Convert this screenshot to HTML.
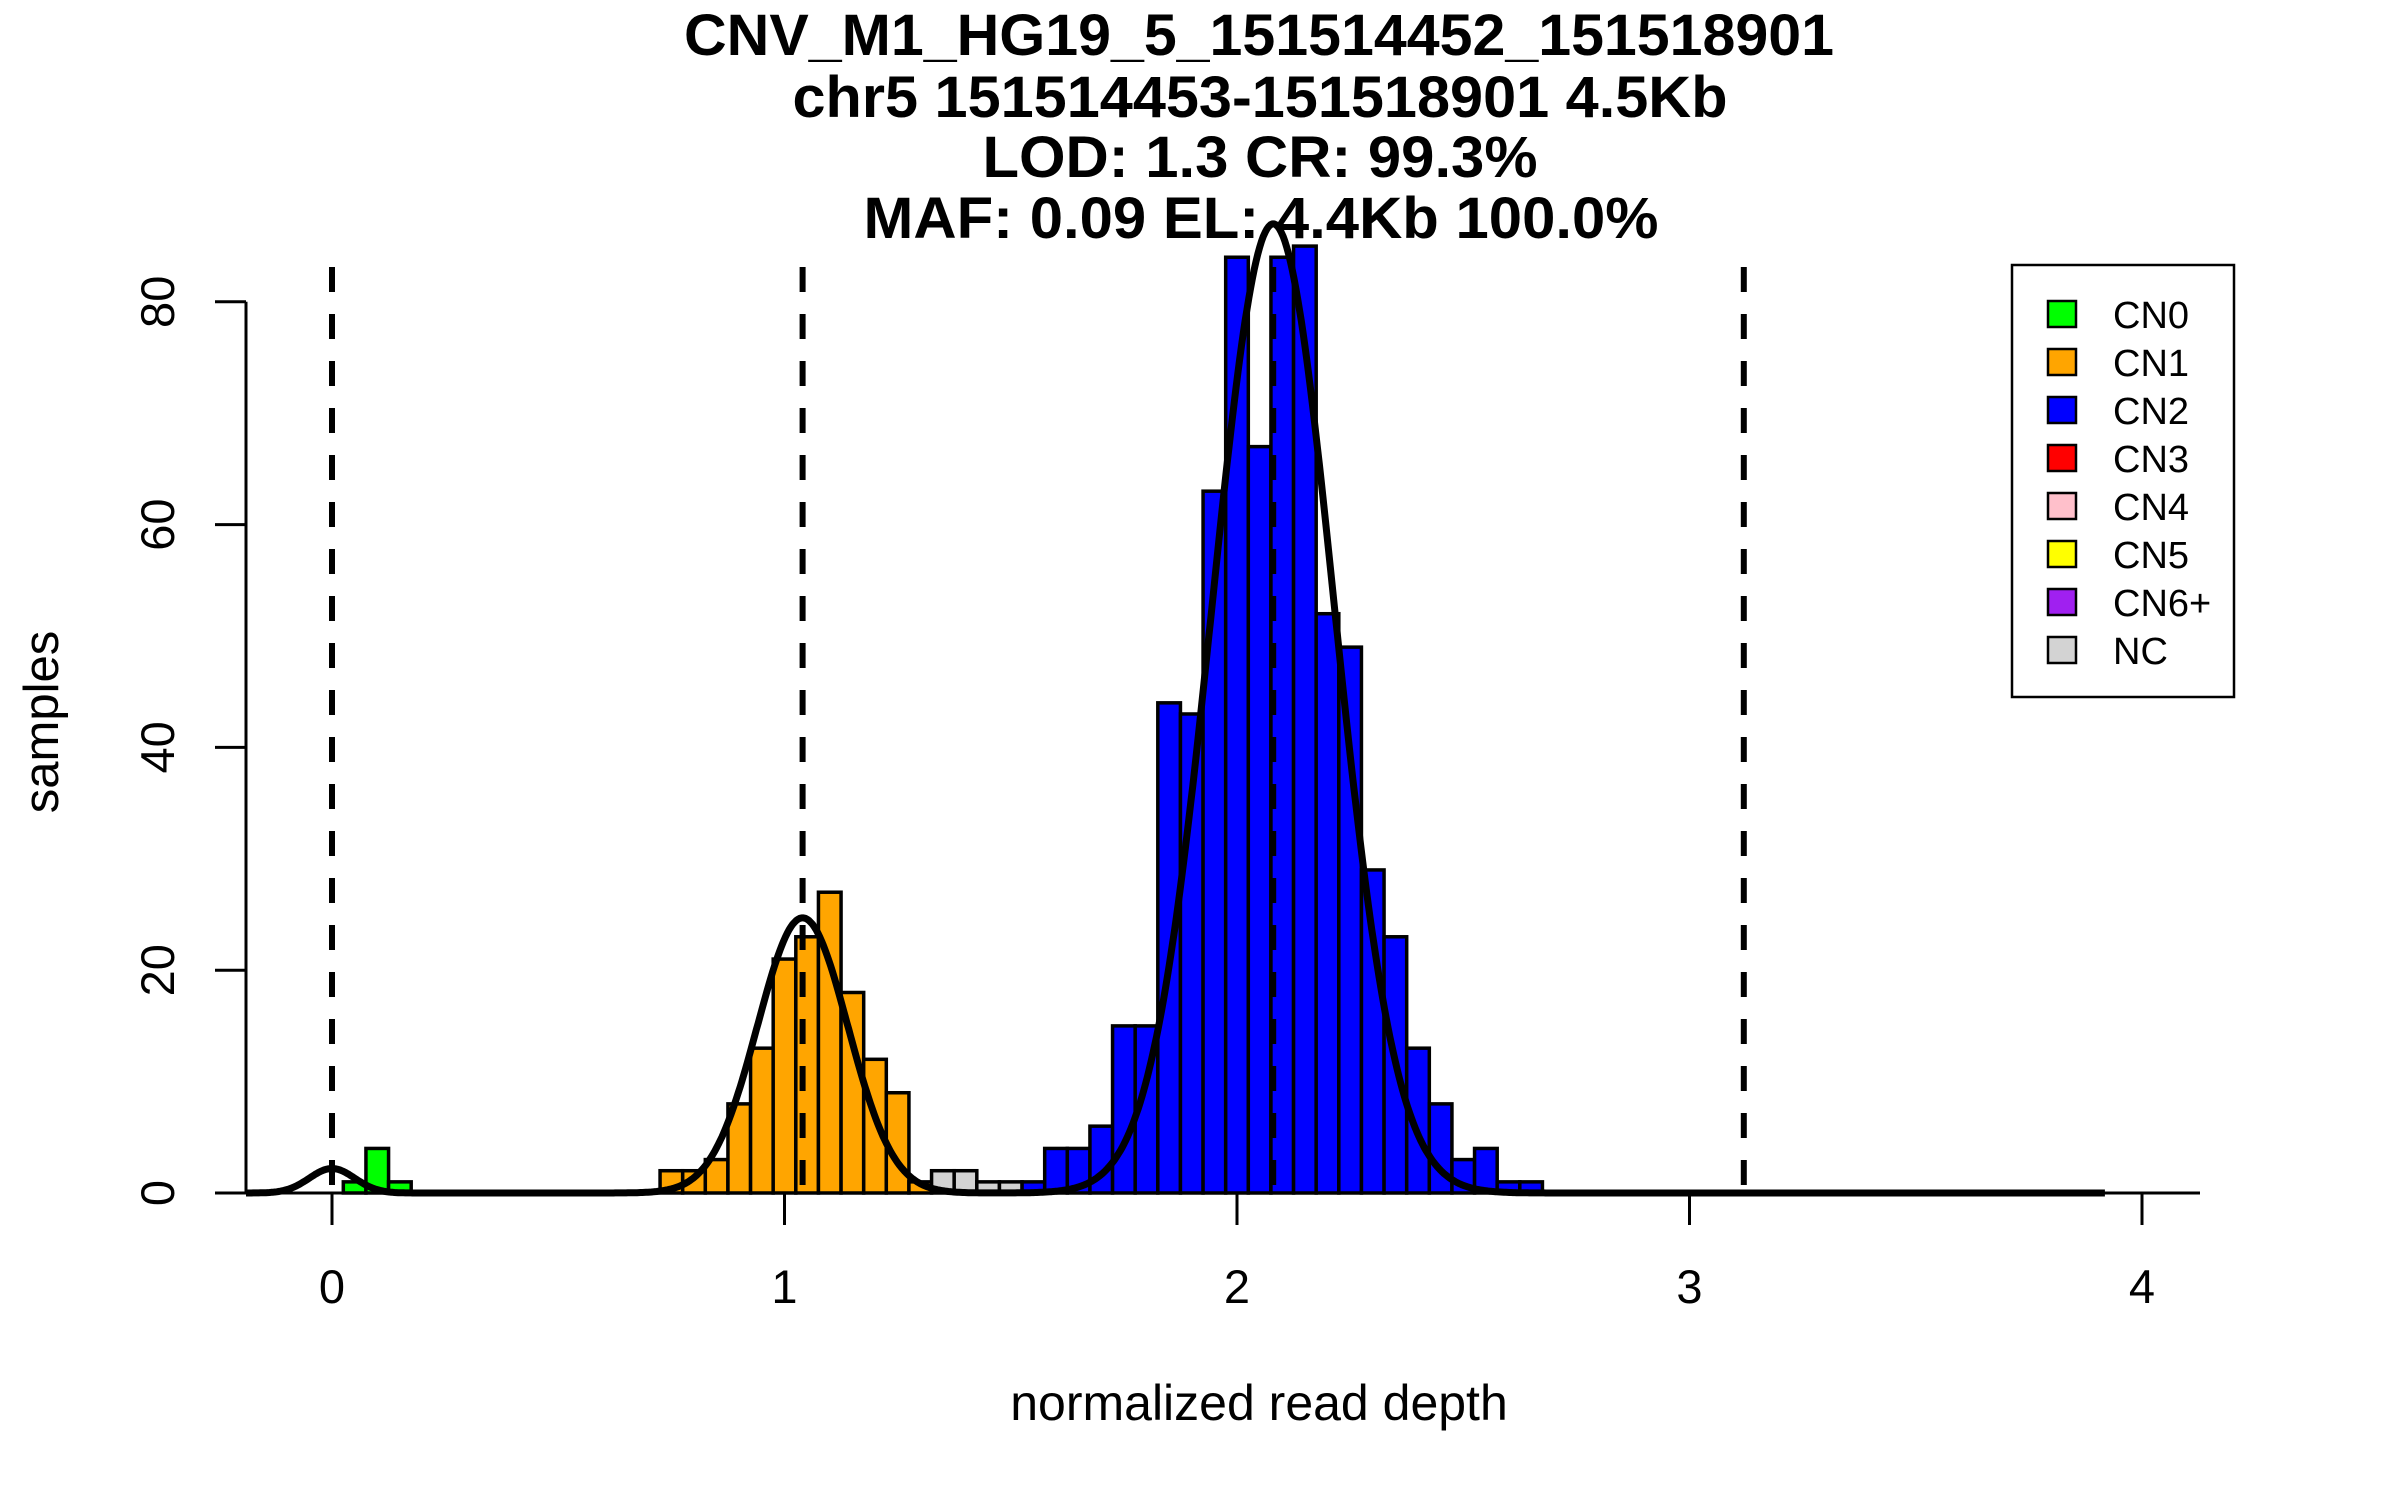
<!DOCTYPE html>
<html><head><meta charset="utf-8"><style>
html,body{margin:0;padding:0;background:#fff;}
svg{display:block;font-family:"Liberation Sans",sans-serif;}
</style></head><body>
<svg id="chart" width="2400" height="1500" viewBox="0 0 2400 1500" xmlns="http://www.w3.org/2000/svg">
<g font-weight="bold" font-size="58" text-anchor="middle">
<text x="1259" y="55" textLength="1150" lengthAdjust="spacingAndGlyphs">CNV_M1_HG19_5_151514452_151518901</text>
<text x="1260" y="117" textLength="935" lengthAdjust="spacingAndGlyphs">chr5 151514453-151518901 4.5Kb</text>
<text x="1260" y="177" textLength="555" lengthAdjust="spacingAndGlyphs">LOD: 1.3 CR: 99.3%</text>
<text x="1261" y="238" textLength="795" lengthAdjust="spacingAndGlyphs">MAF: 0.09 EL: 4.4Kb 100.0%</text>
</g>
<g id="bars"></g>
<g id="vlines"></g>
<g id="curve"></g>
<g id="axes"></g>
<text x="1259" y="1420" font-size="50" text-anchor="middle">normalized read depth</text>
<text x="0" y="0" font-size="49" text-anchor="middle" transform="translate(58,722) rotate(-90)">samples</text>
<g id="legend"></g>
</svg>
<script>
const binStarts = [0.025,0.075,0.125, 0.725,0.775,0.825,0.875,0.925,0.975,1.025,1.075,1.125,1.175,1.225,1.275, 1.325,1.375,1.425,1.475, 1.525,1.575,1.625,1.675,1.725,1.775,1.825,1.875,1.925,1.975,2.025,2.075,2.125,2.175,2.225,2.275,2.325,2.375,2.425,2.475,2.525,2.575,2.625];
const binCounts = [1,4,1, 2,2,3,8,13,21,23,27,18,12,9,1, 2,2,1,1, 1,4,4,6,15,15,44,43,63,84,67,84,85,52,49,29,23,13,8,3,4,1,1];
const binClass = ['CN0','CN0','CN0','CN1','CN1','CN1','CN1','CN1','CN1','CN1','CN1','CN1','CN1','CN1','CN1','NC','NC','NC','NC','CN2','CN2','CN2','CN2','CN2','CN2','CN2','CN2','CN2','CN2','CN2','CN2','CN2','CN2','CN2','CN2','CN2','CN2','CN2','CN2','CN2','CN2','CN2'];
const binWidth = 0.05;
const thresholds = [0, 1.04, 2.08, 3.12];
const compMeans = [0, 1.04, 2.08];
const compSds = [0.05, 0.1, 0.135];
const compPeaks = [2.2, 24.7, 87];
const xTicks = [0,1,2,3,4];
const yTicks = [0,20,40,60,80];
const legendLabels = ['CN0','CN1','CN2','CN3','CN4','CN5','CN6+','NC'];
const legendColors = ['#00ff00','#ffa500','#0000ff','#ff0000','#ffc0cb','#ffff00','#a020f0','#d3d3d3'];

const NS='http://www.w3.org/2000/svg';
const X = v => 332 + v*452.5;
const Y = v => 1193 - v*11.14;
function mk(tag, attrs, parent){const e=document.createElementNS(NS,tag);for(const k in attrs)e.setAttribute(k,attrs[k]);parent.appendChild(e);return e;}
const colorOf = c => legendColors[legendLabels.indexOf(c)];

const gb=document.getElementById('bars');
binStarts.forEach((s,i)=>{
  const r=mk('rect',{x:X(s),y:Y(binCounts[i]),width:X(s+binWidth)-X(s),height:Y(0)-Y(binCounts[i]),fill:colorOf(binClass[i]),stroke:'#000','stroke-width':3.5},gb);
  
  
});

const gv=document.getElementById('vlines');
thresholds.forEach(t=>{
  const l=mk('line',{x1:X(t),x2:X(t),y1:267,y2:Y(0),stroke:'#000','stroke-width':6,'stroke-dasharray':'25 22'},gv);
  
  
});

const gc=document.getElementById('curve');
let d='';
for(let x=-0.19;x<=3.92;x+=0.004){
  let y=0;
  for(let k=0;k<compMeans.length;k++){const z=(x-compMeans[k])/compSds[k];y+=compPeaks[k]*Math.exp(-0.5*z*z);}
  d+=(d?'L':'M')+X(x).toFixed(1)+','+Y(y).toFixed(1);
}
const p=mk('path',{d:d,fill:'none',stroke:'#000','stroke-width':7,'stroke-linejoin':'round'},gc);



const ga=document.getElementById('axes');
const xl=mk('line',{x1:246,x2:2200,y1:1193,y2:1193,stroke:'#000','stroke-width':3},ga);


xTicks.forEach(v=>{
  const t=mk('line',{x1:X(v),x2:X(v),y1:1193,y2:1225,stroke:'#000','stroke-width':3},ga);
  
  
  const tx=mk('text',{x:X(v),y:1303,'font-size':47,'text-anchor':'middle'},ga);
  tx.textContent=v;
  
  
});
const yl=mk('line',{x1:246,x2:246,y1:Y(80),y2:Y(0),stroke:'#000','stroke-width':3},ga);


yTicks.forEach(v=>{
  const t=mk('line',{x1:215,x2:246,y1:Y(v),y2:Y(v),stroke:'#000','stroke-width':3},ga);
  
  
  const tx=mk('text',{x:0,y:0,'font-size':47,'text-anchor':'middle',transform:'translate(174,'+Y(v)+') rotate(-90)'},ga);
  tx.textContent=v;
  
  
});

const gl=document.getElementById('legend');
const box=mk('rect',{x:2012,y:265,width:222,height:432,fill:'#fff',stroke:'#000','stroke-width':2.5},gl);


legendLabels.forEach((lab,i)=>{
  const cy=314+i*48;
  const sq=mk('rect',{x:2048,y:cy-13,width:28,height:26,fill:legendColors[i],stroke:'#000','stroke-width':2.5},gl);
  
  
  const tx=mk('text',{x:2113,y:cy+14,'font-size':38},gl);
  tx.textContent=lab;
  
  
});
</script>
</body></html>
